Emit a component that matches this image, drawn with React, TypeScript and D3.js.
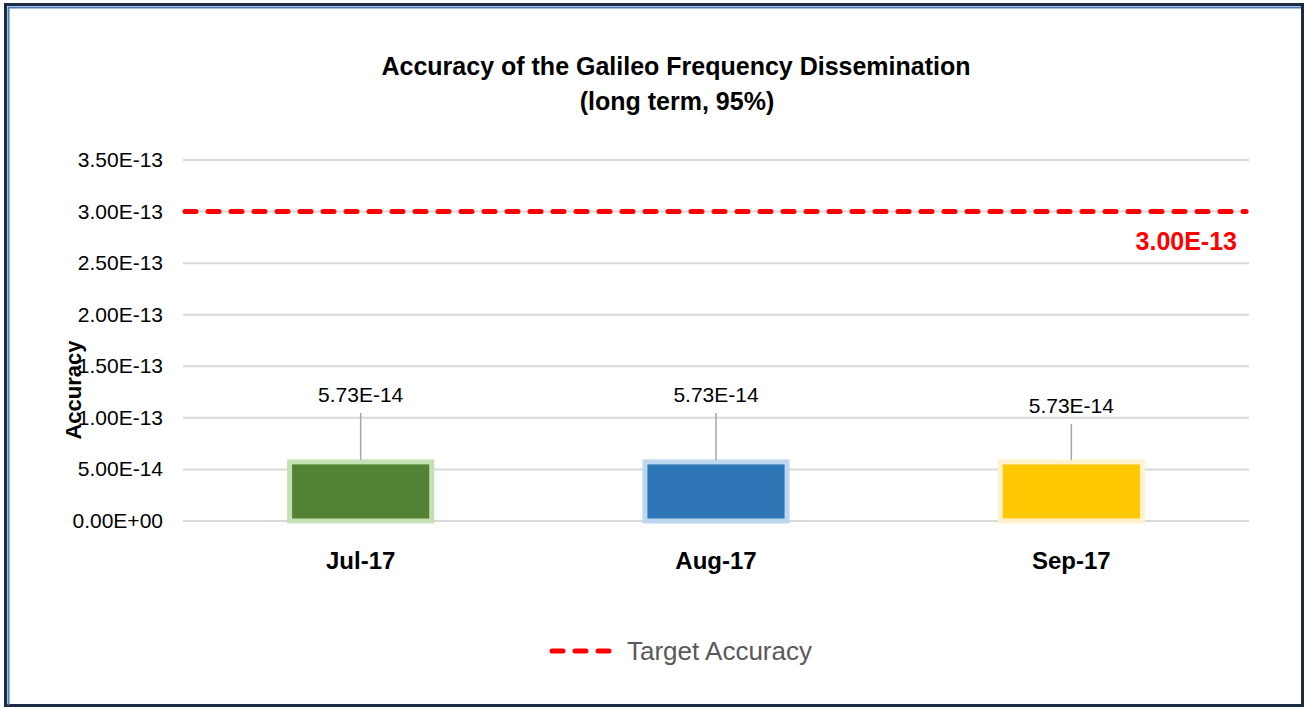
import { useRef, useEffect } from 'react'
import * as d3 from 'd3'

const months = ["Jul-17", "Aug-17", "Sep-17"]
const accuracy = [5.73e-14, 5.73e-14, 5.73e-14]
const yTicks = [0, 5e-14, 1e-13, 1.5e-13, 2e-13, 2.5e-13, 3e-13, 3.5e-13]
const targetAccuracy = 3e-13
const barFill = ["#548235", "#2e75b6", "#ffc800"]
const barEdge = ["#c5e0b4", "#bdd7ee", "#fff2cc"]
// how far each data label sits above its bar (px)
const labelLift = [66, 66, 55]

const FONT = "'Liberation Sans', Arial, sans-serif"

const fmt = (v: number) => {
  if (v === 0) return "0.00E+00"
  const e = Math.floor(Math.log10(v))
  const m = v / Math.pow(10, e)
  return `${m.toFixed(2)}E${e < 0 ? "-" : "+"}${String(Math.abs(e)).padStart(2, "0")}`
}

export default function App() {
  const svgRef = useRef<SVGSVGElement>(null)
  const width = 1305
  const height = 708

  useEffect(() => {
    if (!svgRef.current) return
    const svg = d3.select(svgRef.current)
    svg.selectAll("*").remove()

    // chart frame
    svg.append("rect").attr("x", 5.5).attr("y", 4.5).attr("width", 1297).attr("height", 701)
      .attr("fill", "white").attr("stroke", "#1c2b44").attr("stroke-width", 3)
    svg.append("path").attr("d", "M8.5,705 L8.5,7.5 L1301,7.5")
      .attr("fill", "none").attr("stroke", "#4a7ebb").attr("stroke-width", 2)

    const x = d3.scaleBand().domain(months).range([183, 1249]).paddingInner(0.6).paddingOuter(0.3)
    const y = d3.scaleLinear().domain([0, 3.5e-13]).range([521, 160])

    // title
    const title = svg.append("text").attr("font-family", FONT)
      .attr("font-weight", "bold").attr("font-size", 25).attr("text-anchor", "middle").attr("fill", "#000")
    title.append("tspan").attr("x", 676).attr("y", 75).text("Accuracy of the Galileo Frequency Dissemination")
    title.append("tspan").attr("x", 677).attr("y", 110).text("(long term, 95%)")

    // gridlines
    svg.append("g").selectAll("line").data(yTicks).enter().append("line")
      .attr("x1", 183).attr("x2", 1249)
      .attr("y1", d => y(d)).attr("y2", d => y(d))
      .attr("stroke", "#d9d9d9").attr("stroke-width", 2)

    // y tick labels
    svg.append("g").selectAll("text").data(yTicks).enter().append("text")
      .attr("x", 163).attr("y", d => y(d) + 7)
      .attr("text-anchor", "end").attr("font-family", FONT).attr("font-size", 21)
      .attr("fill", "#000").text(d => fmt(d))

    // y axis title
    svg.append("text").attr("transform", "translate(81,390) rotate(-90)")
      .attr("text-anchor", "middle").attr("font-family", FONT).attr("font-weight", "bold")
      .attr("font-size", 22).attr("fill", "#000").text("Accuracy")

    // bars
    const bars = svg.append("g")
    accuracy.forEach((v, i) => {
      const bx = x(months[i]) as number
      bars.append("rect")
        .attr("x", bx).attr("y", y(v))
        .attr("width", x.bandwidth()).attr("height", y(0) - y(v))
        .attr("fill", barFill[i]).attr("stroke", barEdge[i]).attr("stroke-width", 5)
    })

    // data labels with leader lines
    accuracy.forEach((v, i) => {
      const cx = (x(months[i]) as number) + x.bandwidth() / 2
      const top = y(v) - 2
      const ly = top - labelLift[i]
      svg.append("line").attr("x1", cx).attr("x2", cx).attr("y1", ly + 19).attr("y2", top)
        .attr("stroke", "#a6a6a6").attr("stroke-width", 1.5)
      svg.append("text").attr("x", cx).attr("y", ly + 8)
        .attr("text-anchor", "middle").attr("font-family", FONT).attr("font-size", 21)
        .attr("fill", "#000").text(fmt(v))
    })

    // category labels
    svg.append("g").selectAll("text").data(months).enter().append("text")
      .attr("x", d => (x(d) as number) + x.bandwidth() / 2).attr("y", 569)
      .attr("text-anchor", "middle").attr("font-family", FONT).attr("font-weight", "bold")
      .attr("font-size", 24).attr("fill", "#000").text(d => d)

    // target line
    svg.append("line").attr("x1", 185).attr("x2", 1246)
      .attr("y1", y(targetAccuracy)).attr("y2", y(targetAccuracy))
      .attr("stroke", "#ff0000").attr("stroke-width", 5)
      .attr("stroke-dasharray", "11,12").attr("stroke-linecap", "round")
    svg.append("text").attr("x", 1237).attr("y", y(targetAccuracy) + 38)
      .attr("text-anchor", "end").attr("font-family", FONT).attr("font-weight", "bold")
      .attr("font-size", 25).attr("fill", "#ff0000").text(fmt(targetAccuracy))

    // legend
    svg.append("line").attr("x1", 552).attr("x2", 610).attr("y1", 651).attr("y2", 651)
      .attr("stroke", "#ff0000").attr("stroke-width", 5)
      .attr("stroke-dasharray", "11,12").attr("stroke-linecap", "round")
    svg.append("text").attr("x", 627).attr("y", 660)
      .attr("font-family", FONT).attr("font-size", 26).attr("fill", "#595959").text("Target Accuracy")
  }, [])

  return (
    <svg ref={svgRef} width={width} height={height}
      style={{ position: 'absolute', left: 0, top: 0, display: 'block' }} />
  )
}
